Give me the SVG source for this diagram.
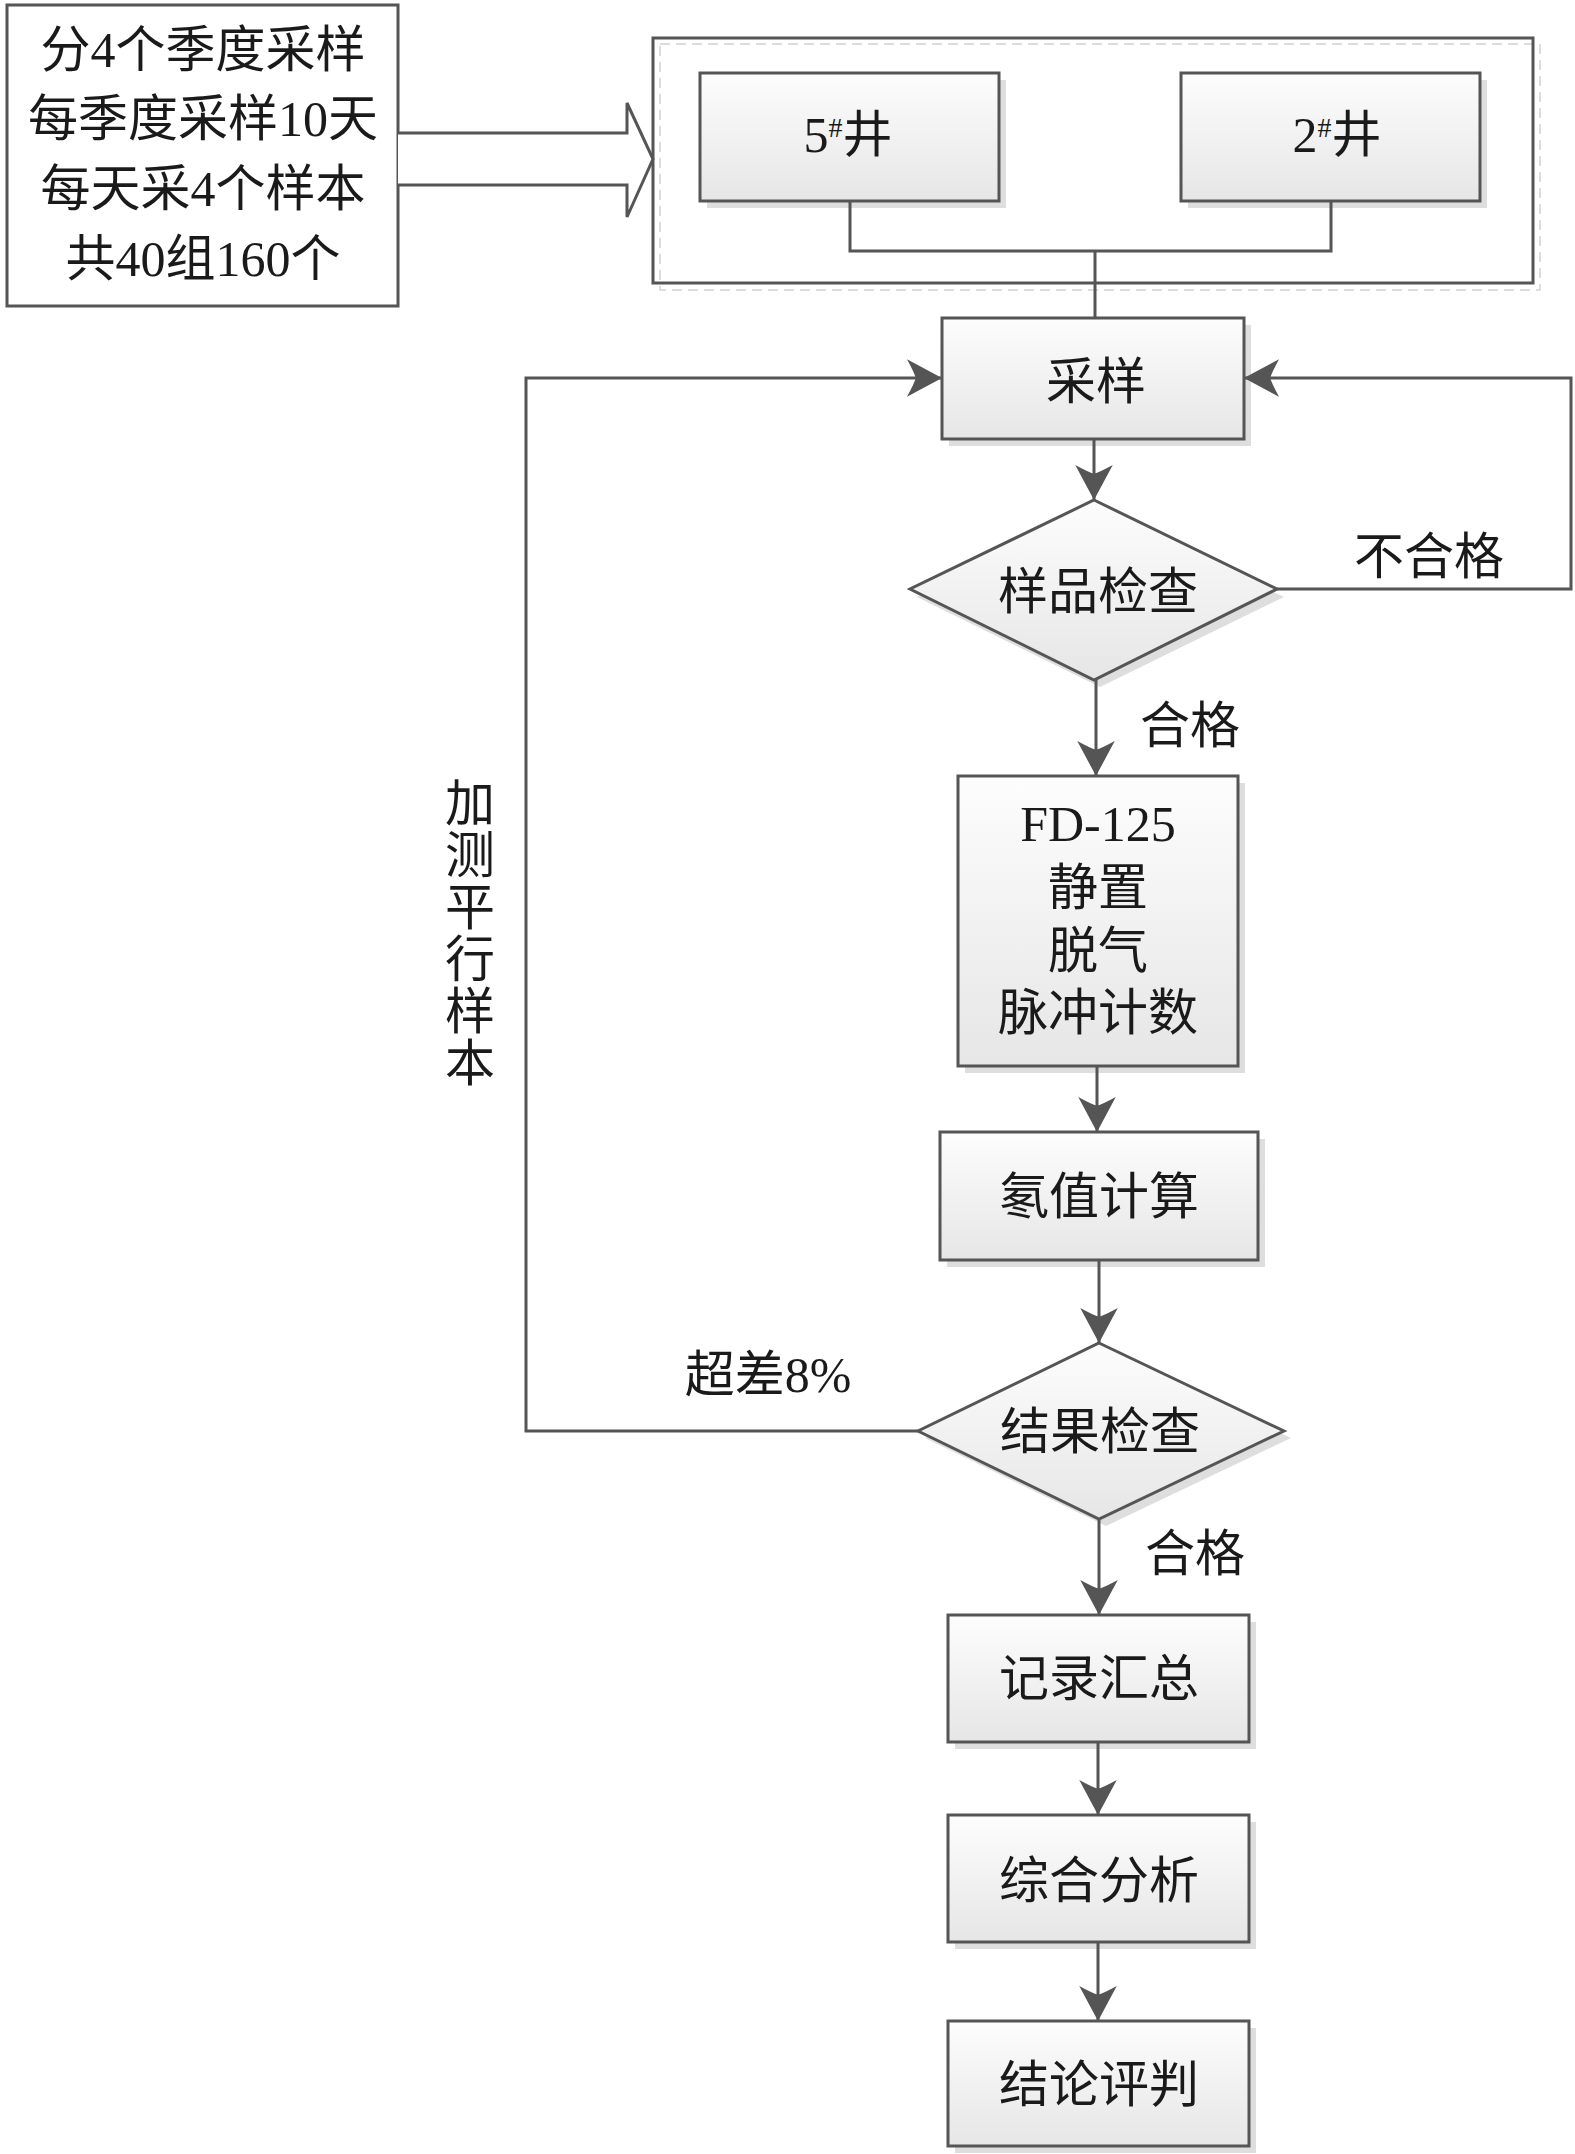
<svg xmlns="http://www.w3.org/2000/svg" width="1575" height="2154" viewBox="0 0 1575 2154">
<style>
text{font-family:"Liberation Serif","Noto Sans CJK SC",serif;font-size:50px;fill:#1a1a1a;text-anchor:middle}
.box{fill:url(#g);stroke:#555;stroke-width:3}
.sh{fill:#dedede}
.ln{fill:none;stroke:#555;stroke-width:3}
.ar{fill:none;stroke:#555;stroke-width:3;marker-end:url(#ah)}
</style>
<defs>
<linearGradient id="g" x1="0" y1="0" x2="0" y2="1">
<stop offset="0" stop-color="#fdfdfd"/>
<stop offset="1" stop-color="#e6e6e6"/>
</linearGradient>
<marker id="ah" markerUnits="userSpaceOnUse" markerWidth="40" markerHeight="40" viewBox="-30 -16 32 32" refX="0" refY="0" orient="auto">
<path d="M0,0 L-28,-15 Q-22,-4 -21,0 Q-22,4 -28,15 Z" fill="#555"/>
</marker>
</defs>
<rect width="1575" height="2154" fill="#fff"/>

<g id="info">
<rect x="7" y="5" width="391" height="301" fill="#fff" stroke="#555" stroke-width="3"/>
<text x="203" y="67">分4个季度采样</text>
<text x="203" y="136">每季度采样10天</text>
<text x="203" y="206">每天采4个样本</text>
<text x="203" y="276">共40组160个</text>
</g>

<g id="block-arrow">
<path d="M398,133 L627,133 L627,103 L653,159 L627,217 L627,185 L398,185" fill="#fff" stroke="#555" stroke-width="3" stroke-linejoin="miter"/>
</g>

<g id="wells">
<rect x="660" y="44" width="880" height="246" fill="none" stroke="#dcdcdc" stroke-width="2" stroke-dasharray="10,6"/>
<rect x="653" y="38" width="880" height="245" fill="none" stroke="#555" stroke-width="3"/>
</g>

<g id="well5">
<rect class="sh" x="707" y="80" width="299" height="128"/>
<rect class="box" x="700" y="73" width="299" height="128"/>
<text x="848" y="152">5<tspan font-size="28" dy="-15">#</tspan><tspan dy="15">井</tspan></text>
</g>

<g id="well2">
<rect class="sh" x="1188" y="80" width="299" height="128"/>
<rect class="box" x="1181" y="73" width="299" height="128"/>
<text x="1337" y="152">2<tspan font-size="28" dy="-15">#</tspan><tspan dy="15">井</tspan></text>
</g>

<g id="sampling">
<rect class="sh" x="949" y="325" width="302" height="121"/>
<rect class="box" x="942" y="318" width="302" height="121"/>
<text x="1096" y="399">采样</text>
</g>

<g id="sample-check">
<polygon class="sh" points="1100,507 1284,597 1100,687 917,597"/>
<polygon class="box" points="1094,500 1277,589 1094,680 910,589"/>
<text x="1098" y="609">样品检查</text>
</g>

<g id="fd125">
<rect class="sh" x="965" y="783" width="280" height="290"/>
<rect class="box" x="958" y="776" width="280" height="290"/>
<text x="1098" y="841">FD-125</text>
<text x="1098" y="905">静置</text>
<text x="1098" y="968">脱气</text>
<text x="1098" y="1030">脉冲计数</text>
</g>

<g id="radon-calc">
<rect class="sh" x="947" y="1139" width="318" height="128"/>
<rect class="box" x="940" y="1132" width="318" height="128"/>
<text x="1099" y="1214">氡值计算</text>
</g>

<g id="result-check">
<polygon class="sh" points="1106,1350 1291,1438 1106,1526 925,1438"/>
<polygon class="box" points="1099,1343 1284,1431 1099,1519 918,1431"/>
<text x="1100" y="1449">结果检查</text>
</g>

<g id="record">
<rect class="sh" x="955" y="1622" width="301" height="127"/>
<rect class="box" x="948" y="1615" width="301" height="127"/>
<text x="1099" y="1696">记录汇总</text>
</g>

<g id="analysis">
<rect class="sh" x="955" y="1822" width="301" height="127"/>
<rect class="box" x="948" y="1815" width="301" height="127"/>
<text x="1099" y="1898">综合分析</text>
</g>

<g id="conclusion">
<rect class="sh" x="955" y="2028" width="301" height="125"/>
<rect class="box" x="948" y="2021" width="301" height="125"/>
<text x="1099" y="2102">结论评判</text>
</g>

<g id="connectors">
<path class="ln" d="M850,201 V251 H1331 V201"/>
<path class="ln" d="M1095,251 V318"/>
<path class="ar" d="M1094,439 V500"/>
<path class="ar" d="M1277,589 H1571 V378 H1244"/>
<path class="ar" d="M1096,680 V776"/>
<path class="ar" d="M1097,1066 V1132"/>
<path class="ar" d="M1099,1260 V1343"/>
<path class="ar" d="M918,1431 H526 V378 H942"/>
<path class="ar" d="M1099,1519 V1615"/>
<path class="ar" d="M1098,1742 V1815"/>
<path class="ar" d="M1098,1942 V2021"/>
</g>

<g id="labels">
<text x="1429" y="574">不合格</text>
<text x="1190" y="743">合格</text>
<text x="768" y="1392">超差8%</text>
<text x="1195" y="1571">合格</text>
<text x="470"><tspan x="470" y="821">加</tspan><tspan x="470" y="873">测</tspan><tspan x="470" y="925">平</tspan><tspan x="470" y="977">行</tspan><tspan x="470" y="1029">样</tspan><tspan x="470" y="1081">本</tspan></text>
</g>
</svg>
